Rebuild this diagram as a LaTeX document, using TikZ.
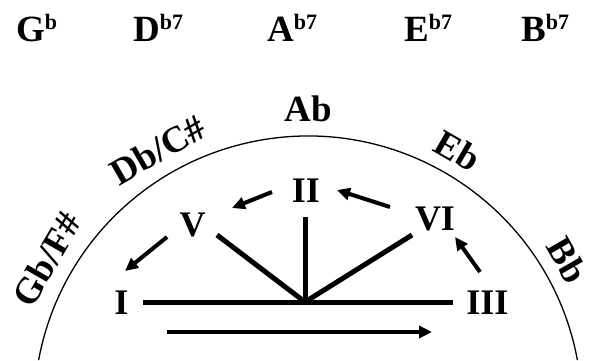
\documentclass[tikz,border=0pt]{standalone}
\usepackage{fontspec}
\setmainfont{Liberation Serif}
\usetikzlibrary{arrows.meta}
\tikzset{
  chord/.style={
    inner sep=0pt, anchor=base west,
    font=\fontsize{37}{40}\selectfont\bfseries
  },
  keylabel/.style={
    inner sep=0pt, anchor=base,
    font=\fontsize{37}{40}\selectfont\bfseries
  },
  numeral/.style={
    inner sep=0pt,
    font=\fontsize{36}{40}\selectfont\bfseries
  },
  rim/.style={line width=1.3pt},
  bar/.style={line width=5pt},
  arrow/.style={-{Triangle[length=13pt,width=12pt]}, line width=4pt}
}
\newcommand{\chordsup}[1]{\raisebox{12pt}{\fontsize{22}{22}\selectfont #1}}

\begin{document}
\begin{tikzpicture}[x=1pt,y=1pt]
  \useasboundingbox (0,0) rectangle (592,360);

  % chord row
  \node[chord] (gb) at (16,319) {G\chordsup{b}};
  \node[chord] (db7) at (133,319) {D\chordsup{b7}};
  \node[chord] (ab7) at (267,319) {A\chordsup{b7}};
  \node[chord] (eb7) at (404,319) {E\chordsup{b7}};
  \node[chord] (bb7) at (521,319) {B\chordsup{b7}};

  % circle of fifths
  \coordinate (O) at (308,-50);
  \draw[rim] (O) ++(10.5:274) arc[start angle=10.5, end angle=169.5, radius=274];
  \path (O) ++(150:289) node[keylabel, rotate=60] (gbfs) {Gb/F\#};
  \path (O) ++(120:288) node[keylabel, rotate=30] (dbcs) {Db/C\#};
  \path (O) ++(90:289) node[keylabel] (abkey) {Ab};
  \path (O) ++(60:287) node[keylabel, rotate=-30] (ebkey) {Eb};
  \path (O) ++(30:287) node[keylabel, rotate=-60] (bbkey) {Bb};

  % degrees
  \node[numeral] (I) at (121.5,57.5) {I};
  \node[numeral] (III) at (487.5,57.5) {III};
  \node[numeral] (VI) at (435,141.5) {VI};
  \node[numeral] (II) at (306,169.5) {II};
  \node[numeral] (V) at (192.5,135) {V};
  \coordinate (hub) at (305,58);

  \draw[bar] ([xshift=21.5pt]I.center) -- ([xshift=-34.5pt]III.center);
  \draw[bar] (hub) -- ([shift={(24.5,-10)}]V.center);
  \draw[bar] (hub) -- ([shift={(-1,-26.5)}]II.center);
  \draw[bar] (hub) -- ([shift={(-23,-16.5)}]VI.center);

  \draw[arrow] ([shift={(-7.5,30.5)}]III.center) -- ([shift={(20,-18.5)}]VI.center);
  \draw[arrow] ([shift={(-45,11.5)}]VI.center) -- ([shift={(31,0.5)}]II.center);
  \draw[arrow] ([shift={(-34,-1.5)}]II.center) -- ([shift={(39.5,17)}]V.center);
  \draw[arrow] ([shift={(-25.5,-12)}]V.center) -- ([shift={(3.5,31.5)}]I.center);

  \coordinate (from) at (167,28);
  \coordinate (to) at (432,28);
  \draw[arrow] (from) -- (to);
\end{tikzpicture}
\end{document}
